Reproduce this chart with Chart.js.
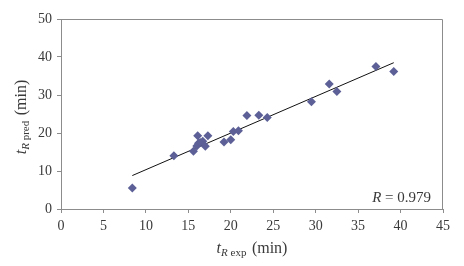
<!DOCTYPE html>
<html>
<head>
<meta charset="utf-8">
<script src="https://cdn.jsdelivr.net/npm/chart.js@4"></script>
<style>
html,body{margin:0;padding:0;background:#fff;}
#wrap{width:464px;height:266px;position:relative;}
</style>
</head>
<body>
<div id="wrap"><canvas id="c" width="464" height="266"></canvas></div>
<script>
// Data
const expTimes  = [8.4, 13.3, 15.6, 16.0, 16.1, 16.2, 16.4, 16.7, 17.0, 17.3, 19.2, 20.0, 20.3, 20.9, 21.9, 23.3, 24.3, 29.5, 31.6, 32.5, 37.1, 39.2];
const predTimes = [5.5, 14.0, 15.2, 16.6, 19.3, 17.3, 17.5, 17.8, 16.5, 19.3, 17.6, 18.2, 20.4, 20.6, 24.6, 24.7, 24.1, 28.2, 32.9, 30.9, 37.5, 36.2];
const fitX = [8.4, 39.2];
const fitY = [8.8, 38.5];
const xTicks = [0, 5, 10, 15, 20, 25, 30, 35, 40, 45];
const yTicks = [0, 10, 20, 30, 40, 50];
const rLabel = "R = 0.979";

const points = expTimes.map((x, i) => ({x: x, y: predTimes[i]}));
const fitLine = fitX.map((x, i) => ({x: x, y: fitY[i]}));

const SERIF = '"Liberation Serif", "DejaVu Serif", serif';
const AXIS = '#8c8c8c';
const TXT = '#3a3a3a';

const decor = {
  id: 'decor',
  beforeDatasetsDraw(chart) {
    const {ctx, chartArea: a} = chart;
    ctx.save();
    ctx.strokeStyle = AXIS;
    ctx.lineWidth = 1;
    ctx.beginPath();
    ctx.moveTo(a.left, a.top + 0.5);
    ctx.lineTo(a.right - 0.5, a.top + 0.5);
    ctx.lineTo(a.right - 0.5, a.bottom);
    ctx.stroke();
    ctx.restore();
  },
  afterDraw(chart) {
    const {ctx, chartArea: a} = chart;
    ctx.save();
    ctx.fillStyle = TXT;
    ctx.textBaseline = 'alphabetic';
    const drawTitle = (sub) => {
      const parts = [
        {t: 't', f: 'italic 16px ' + SERIF, dy: 0},
        {t: 'R', f: 'italic 11px ' + SERIF, dy: 3},
        {t: ' ' + sub + '  ', f: '11px ' + SERIF, dy: 3},
        {t: '(min)', f: '16px ' + SERIF, dy: 0}
      ];
      let w = 0;
      parts.forEach(p => { ctx.font = p.f; p.w = ctx.measureText(p.t).width; w += p.w; });
      let x = -w / 2;
      parts.forEach(p => { ctx.font = p.f; ctx.textAlign = 'left'; ctx.fillText(p.t, x, p.dy); x += p.w; });
    };
    ctx.save();
    ctx.translate((a.left + a.right) / 2, 253);
    drawTitle('exp');
    ctx.restore();
    ctx.save();
    ctx.translate(26, (a.top + a.bottom) / 2 + 3);
    ctx.rotate(-Math.PI / 2);
    drawTitle('pred');
    ctx.restore();
    ctx.font = '15px ' + SERIF;
    const rest = rLabel.slice(1);
    const wRest = ctx.measureText(rest).width;
    ctx.textAlign = 'right';
    ctx.fillText(rest, 431, 202);
    ctx.font = 'italic 15px ' + SERIF;
    ctx.fillText(rLabel[0], 431 - wRest, 202);
    ctx.restore();
  }
};

new Chart(document.getElementById('c'), {
  type: 'scatter',
  data: {
    datasets: [
      {
        data: points,
        pointStyle: 'rectRot',
        pointRadius: 4.5,
        pointHoverRadius: 4.5,
        backgroundColor: '#5c6096',
        borderColor: '#5c6096',
        borderWidth: 0,
        order: 1
      },
      {
        type: 'line',
        data: fitLine,
        borderColor: '#111',
        borderWidth: 1,
        pointRadius: 0,
        fill: false,
        order: 2
      }
    ]
  },
  options: {
    responsive: false,
    animation: false,
    events: [],
    layout: {padding: {top: 19, right: 21, left: 0, bottom: 0}},
    plugins: {legend: {display: false}, tooltip: {enabled: false}},
    scales: {
      x: {
        type: 'linear',
        min: 0, max: 45,
        afterBuildTicks: s => { s.ticks = xTicks.map(v => ({value: v})); },
        afterFit: s => { s.height = 57; },
        ticks: {color: TXT, font: {family: SERIF, size: 14}, padding: 5, maxRotation: 0},
        grid: {display: true, drawOnChartArea: false, drawTicks: true, tickLength: 4, color: AXIS},
        border: {display: true, color: AXIS}
      },
      y: {
        type: 'linear',
        min: 0, max: 50,
        afterBuildTicks: s => { s.ticks = yTicks.map(v => ({value: v})); },
        afterFit: s => { s.width = 61; },
        ticks: {color: TXT, font: {family: SERIF, size: 14}, padding: 5},
        grid: {display: true, drawOnChartArea: false, drawTicks: true, tickLength: 4, color: AXIS},
        border: {display: true, color: AXIS}
      }
    }
  },
  plugins: [decor]
});
</script>
</body>
</html>
